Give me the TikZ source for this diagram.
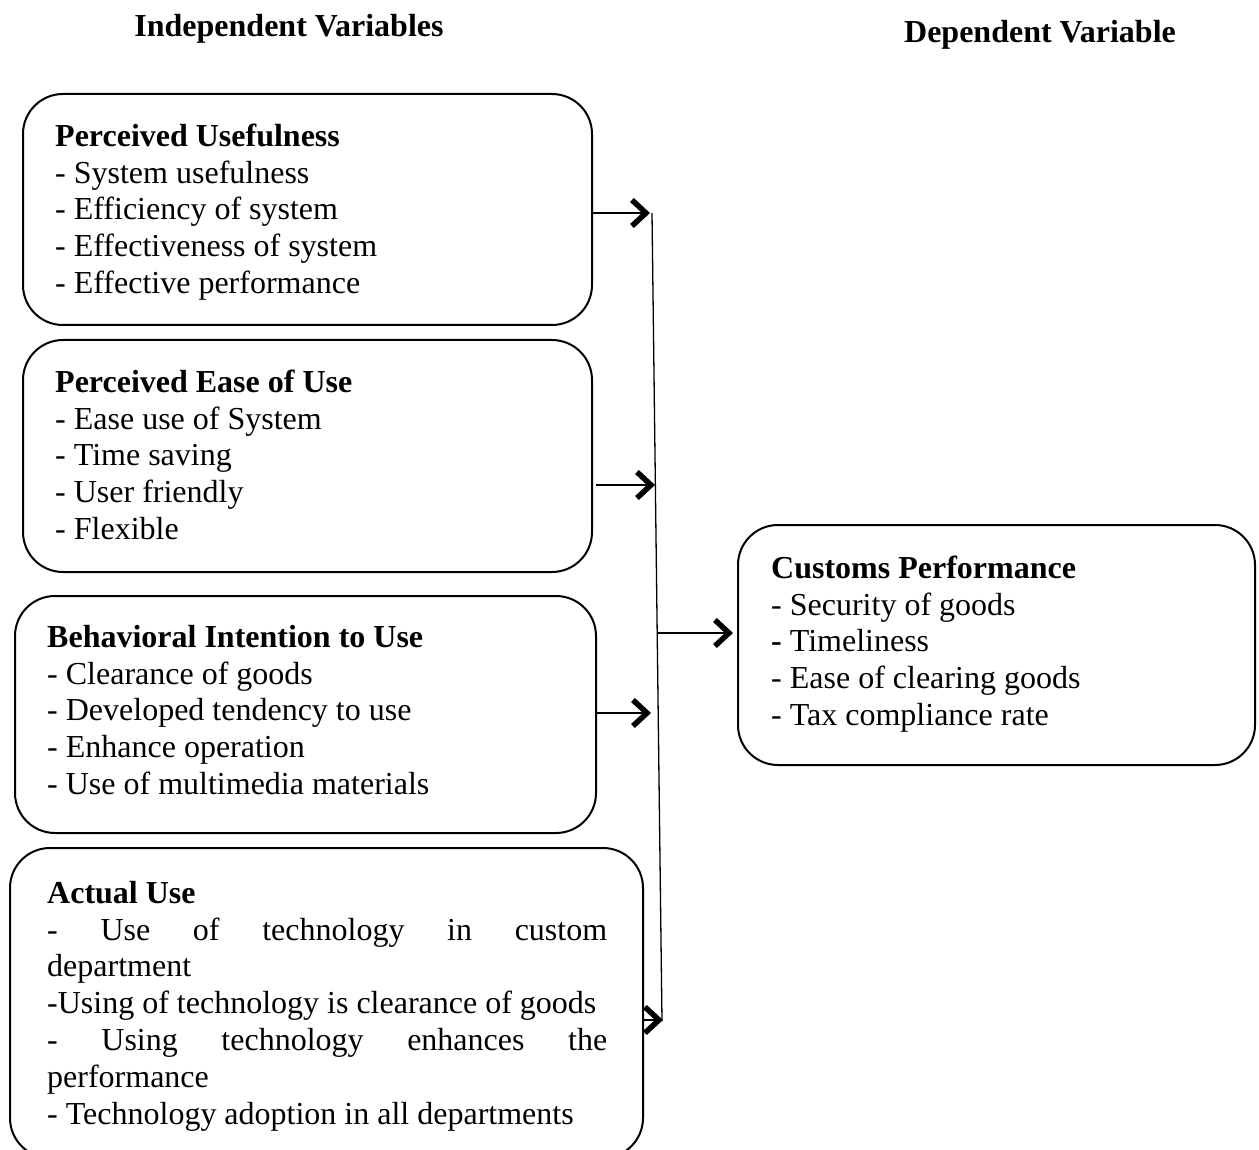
\documentclass[tikz,border=0pt]{standalone}
\usepackage{fontspec}
\setmainfont{Liberation Serif}
\usetikzlibrary{arrows.meta}
\begin{document}
\begin{tikzpicture}[x=1pt,y=-1pt,
  box/.style={draw, line width=2pt, rounded corners=40pt, inner sep=0pt},
  txt/.style={anchor=base west, align=left, inner sep=0pt, font=\fontsize{32}{36.8}\selectfont},
  hdr/.style={anchor=base, inner sep=0pt, font=\fontsize{32}{36.8}\selectfont\bfseries},
  arr/.style={line width=2.5pt, -{Straight Barb[length=14pt,width=26pt,line width=5.5pt]}},
  vline/.style={line width=1.3pt}
]
\clip (0,0) rectangle (1259,1150);
\useasboundingbox (0,0) rectangle (1259,1150);

\node[hdr] (iv) at (289,37) {Independent Variables};
\node[hdr] (dv) at (1040,43) {Dependent Variable};

\node[box, minimum width=569pt, minimum height=231pt] (pu) at (307.5,209.5) {};
\node[box, minimum width=569pt, minimum height=232pt] (peu) at (307.5,456) {};
\node[box, minimum width=581pt, minimum height=237pt] (bi) at (305.5,714.5) {};
\node[box, minimum width=633pt, minimum height=310pt] (au) at (326.5,1003) {};
\node[box, minimum width=517pt, minimum height=240pt] (cp) at (996.5,645) {};

% anchor base west = baseline of the last line
\node[txt] (pu-t) at (55,293.5) {\textbf{Perceived Usefulness}\\- System usefulness\\- Efficiency of system\\- Effectiveness of system\\- Effective performance};
\node[txt] (peu-t) at (55,539.5) {\textbf{Perceived Ease of Use}\\- Ease use of System\\- Time saving\\- User friendly\\- Flexible};
\node[txt] (bi-t) at (47,794.5) {\textbf{Behavioral Intention to Use}\\- Clearance of goods\\- Developed tendency to use\\- Enhance operation\\- Use of multimedia materials};
\node[txt] (au-t) at (47,1124) {\textbf{Actual Use}\\\hbox to 560pt{-\hfill Use\hfill of\hfill technology\hfill in\hfill custom}\\department\\-Using of technology is clearance of goods\\\hbox to 560pt{-\hfill Using\hfill technology\hfill enhances\hfill the}\\performance\\- Technology adoption in all departments};
\node[txt] (cp-t) at (771,725.5) {\textbf{Customs Performance}\\- Security of goods\\\textbf{-} Timeliness\\- Ease of clearing goods\\- Tax compliance rate};

\coordinate (vtop) at (652,213);
\coordinate (vbot) at (662,1021);
\draw[vline] (vtop) -- (vbot);

\coordinate (t1) at (650,213);
\coordinate (t2) at (655,485);
\coordinate (t3) at (651,713);
\coordinate (t4) at (663,1020);
\coordinate (m) at (657,633);

\draw[arr] (pu.east |- t1) -- (t1);
\draw[arr] (peu.east |- t2) ++(3,0) -- (t2);
\draw[arr] (bi.east |- t3) -- (t3);
\draw[arr] (au.east |- t4) -- (t4);
\draw[arr, shorten >=4pt] (m) -- (cp.west |- m);
\end{tikzpicture}
\end{document}
